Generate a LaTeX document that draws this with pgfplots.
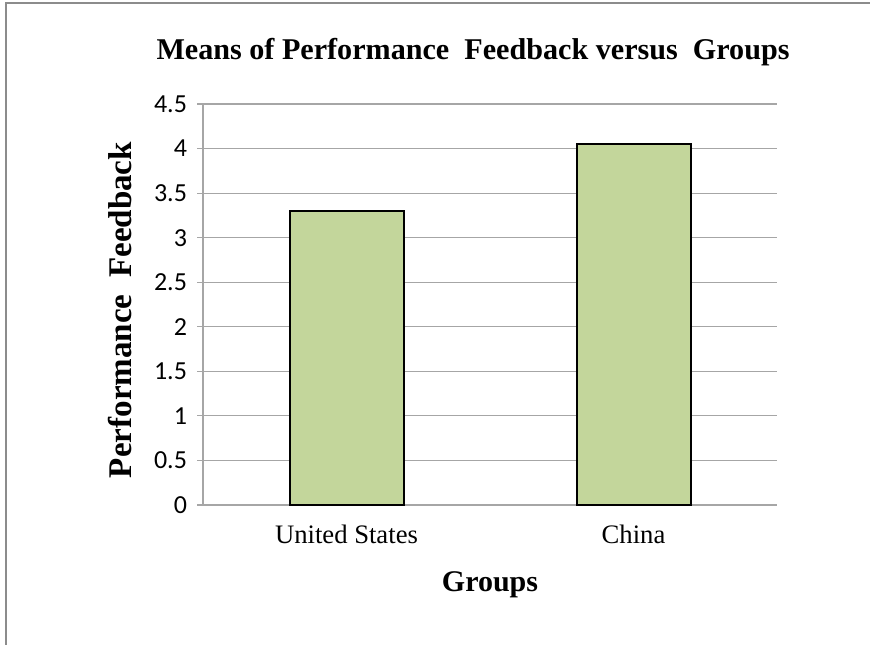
\documentclass[border=0pt]{standalone}
\usepackage{fontspec}
\setmainfont{Liberation Serif}
\newfontfamily\calibri{Carlito}
\usepackage{pgfplots}
\pgfplotsset{compat=1.18}
\definecolor{barfill}{HTML}{C3D69B}
\definecolor{gridc}{HTML}{A6A6A6}
\definecolor{framec}{HTML}{8C8C8C}
\begin{document}
\begin{tikzpicture}
\path[use as bounding box] (0,0) rectangle (652.5pt,483.75pt);
\draw[framec, line width=1.6pt] (4.5pt,0) -- (4.5pt,481.5pt) -- (652.5pt,481.5pt);
\begin{axis}[
  at={(152.25pt,105pt)}, anchor=south west,
  scale only axis, width=430.5pt, height=300.75pt,
  xmin=-0.5, xmax=1.5, ymin=0, ymax=4.5,
  axis x line*=bottom, axis y line*=left,
  axis line style={gridc, line width=0.9pt, -},
  ytick={0,0.5,...,4.5},
  yticklabels={0,0.5,1,1.5,2,2.5,3,3.5,4,4.5},
  ymajorgrids, grid style={gridc, line width=0.9pt},
  tick align=outside,
  major tick length=4.5pt,
  tick style={gridc, line width=0.9pt},
  yticklabel style={font=\calibri\fontsize{19.5}{22}\selectfont, xshift=-4pt},
  xtick={0,1}, xticklabels={United States, China},
  x tick style={draw=none},
  xticklabel style={font=\fontsize{20}{24}\selectfont, yshift=-7pt},
  extra x ticks={-0.5,0.5,1.5}, extra x tick labels={},
  extra x tick style={grid=none, major tick length=5.5pt, tick style={draw=gridc, line width=0.9pt}},
  /pgf/number format/assume math mode=true,
  clip=false,
]
\addplot[ybar, bar width=85.5pt, fill=barfill, draw=black, line width=1.5pt] coordinates {(0,3.30) (1,4.05)};
\end{axis}
\node[font=\bfseries\fontsize{22.6}{26}\selectfont] at (354.75pt,445pt) {Means of Performance\ \ Feedback versus\ \ Groups};
\node[font=\bfseries\fontsize{24.8}{28}\selectfont, rotate=90] at (90pt,251.25pt) {Performance\ \ Feedback};
\node[font=\bfseries\fontsize{22.5}{26}\selectfont] at (367.5pt,45pt) {Groups};
\end{tikzpicture}
\end{document}
